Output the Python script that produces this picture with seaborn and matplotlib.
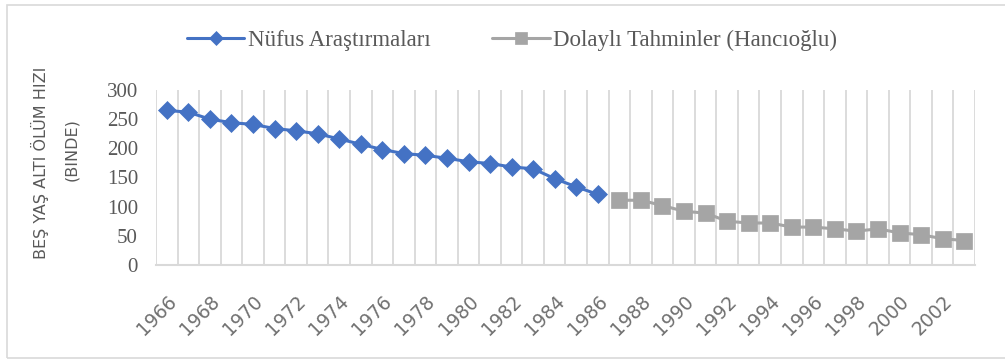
import numpy as np
import pandas as pd
import matplotlib
matplotlib.use("Agg")
import matplotlib.pyplot as plt
from matplotlib.ticker import FixedLocator
from matplotlib.patches import Rectangle
import seaborn as sns

# Under-five mortality per thousand
survey_years = list(range(1966, 1987))
survey_values = [265, 262, 250, 244, 241, 234, 230, 225, 216, 207,
                 198, 191, 188, 183, 177, 174, 168, 165, 148, 134, 121]

indirect_years = list(range(1987, 2004))
indirect_values = [111, 111, 102, 92, 89, 75, 72, 72, 65, 65,
                   62, 58, 62, 55, 52, 45, 42]

series_names = ["Nüfus Araştırmaları", "Dolaylı Tahminler (Hancıoğlu)"]
y_label_lines = ["BEŞ YAŞ ALTI ÖLÜM HIZI", "(BINDE)"]
y_ticks = [0, 50, 100, 150, 200, 250, 300]
x_tick_years = list(range(1966, 2003, 2))

BLUE = "#4472C4"
GRAY = "#A5A5A5"
GRID = "#D9D9D9"
TEXT = "#595959"

sns.set_style("white")
plt.rcParams["font.family"] = ["DejaVu Sans"]

fig = plt.figure(figsize=(10.05, 3.6), dpi=100)
ax = fig.add_axes([156 / 1005, 95 / 360, 819 / 1005, 175 / 360])

# chart-area frame
fig.patches.append(Rectangle((7 / 1005, 2 / 360), 1.2, 353 / 360,
                             transform=fig.transFigure, fill=False,
                             edgecolor=GRID, linewidth=1.2, zorder=0))

df_a = pd.DataFrame({"year": survey_years, "value": survey_values})
df_b = pd.DataFrame({"year": indirect_years, "value": indirect_values})

sns.lineplot(data=df_a, x="year", y="value", ax=ax, color=BLUE,
             marker="D", markersize=9.5, markeredgecolor=BLUE,
             markeredgewidth=0.5, linewidth=2.2, label=series_names[0],
             zorder=3)
sns.lineplot(data=df_b, x="year", y="value", ax=ax, color=GRAY,
             marker="s", markersize=11.5, markeredgecolor=GRAY,
             markeredgewidth=0.5, linewidth=2.2, label=series_names[1],
             zorder=3)

all_years = survey_years + indirect_years
ax.set_xlim(all_years[0] - 0.5, all_years[-1] + 0.5)
ax.set_ylim(0, 300)

# vertical gridlines between categories
ax.xaxis.set_minor_locator(FixedLocator(np.arange(all_years[0] - 0.5, all_years[-1] + 1, 1)))
ax.grid(which="minor", axis="x", color=GRID, linewidth=1.3)
ax.grid(which="major", axis="y", visible=False)
ax.set_axisbelow(True)

ax.set_xticks(x_tick_years)
ax.set_xticklabels([str(y) for y in x_tick_years], rotation=45, ha="right",
                   va="top", rotation_mode="anchor", fontsize=13.5, color="#707070",
                   family="DejaVu Sans")
ax.set_yticks(y_ticks)
ax.set_yticklabels([str(v) for v in y_ticks], fontsize=15, color=TEXT,
                   family="Liberation Serif")
ax.tick_params(axis="x", which="both", length=0, pad=19)
ax.tick_params(axis="y", which="both", length=0, pad=13)

for side in ["top", "right", "left"]:
    ax.spines[side].set_visible(False)
ax.spines["bottom"].set_color(GRID)
ax.spines["bottom"].set_linewidth(1.5)

ax.set_xlabel("")
ax.set_ylabel("")
fig.text(40 / 1005, 1 - 163 / 360, y_label_lines[0], rotation=90,
         ha="center", va="center", fontsize=11.5, color=TEXT,
         family="DejaVu Sans")
fig.text(72 / 1005, 1 - 150 / 360, y_label_lines[1], rotation=90,
         ha="center", va="center", fontsize=11.5, color=TEXT,
         family="DejaVu Sans")

ax.legend(loc="center", bbox_to_anchor=(512 / 1005, 1 - 40 / 360),
          bbox_transform=fig.transFigure, ncol=2, frameon=False,
          prop={"family": "Liberation Serif", "size": 16.5},
          labelcolor=TEXT, handlelength=2.5, handletextpad=0.15,
          columnspacing=2.7, markerscale=0.75)

fig.savefig("out.png", dpi=100)
